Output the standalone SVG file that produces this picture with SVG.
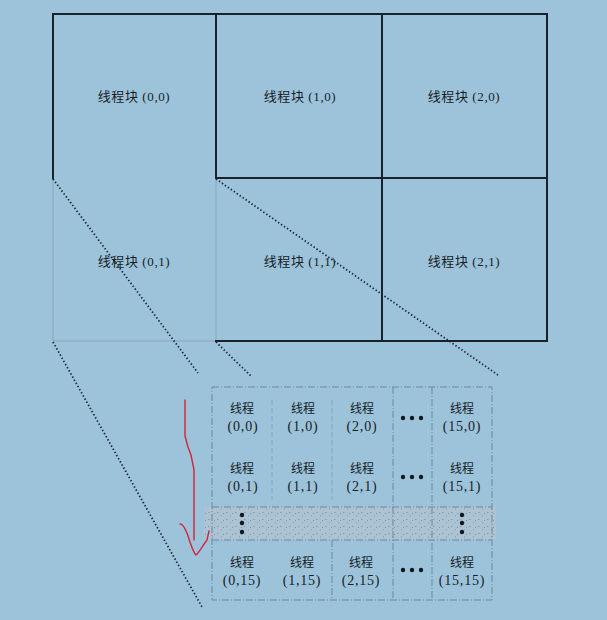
<svg xmlns="http://www.w3.org/2000/svg" width="607" height="620" viewBox="0 0 607 620">
<defs>
<style>
.bg{fill:#9dc3db}
.thick{stroke:#18222c;stroke-width:2;fill:none;stroke-linecap:square}
.faint{stroke:#87a7bb;stroke-width:1;fill:none}
.tgrid{stroke:#6a899e;stroke-width:1;fill:none;stroke-dasharray:7 2 1 2}
.tgrid2{stroke:#86a6ba;stroke-width:1;fill:none;stroke-dasharray:5 3}
.dot{stroke:#1c2833;stroke-width:1.8;fill:none;stroke-dasharray:1.4 2.2}
.blk{font-family:"Liberation Serif","Noto Sans CJK SC",serif;font-size:13px;fill:#151d25;text-anchor:middle;letter-spacing:0.6px}
.th{font-family:"Noto Sans CJK SC",serif;font-size:12px;fill:#151d25;text-anchor:middle}
.co{font-family:"Liberation Serif",serif;font-size:14px;fill:#151d25;text-anchor:middle;letter-spacing:0.8px}
.ell{fill:#10181f}
.red{stroke:#d3233e;stroke-width:1.4;fill:none;stroke-linejoin:round;stroke-linecap:round}
</style>
<pattern id="speck" width="9" height="7" patternUnits="userSpaceOnUse">
  <rect width="9" height="7" fill="#aec3d0"/>
  <rect x="1" y="1" width="1.5" height="1" fill="#7a97ab"/>
  <rect x="5" y="4" width="1" height="1.5" fill="#8aa5b8"/>
  <rect x="7" y="2" width="1" height="1" fill="#6f8da2"/>
</pattern>
</defs>
<rect class="bg" x="0" y="0" width="607" height="620"/>

<g id="blocks">
  <g id="block-0-0">
    <text class="blk" x="134" y="101">线程块 (0,0)</text>
  </g>
  <g id="block-1-0">
    <text class="blk" x="300" y="101">线程块 (1,0)</text>
  </g>
  <g id="block-2-0">
    <text class="blk" x="464" y="101">线程块 (2,0)</text>
  </g>
  <g id="block-0-1">
    <path class="faint" d="M53,178 V341 H216"/>
    <text class="blk" x="134" y="266">线程块 (0,1)</text>
  </g>
  <g id="block-1-1">
    <path class="faint" d="M216,178 V341"/>
    <text class="blk" x="300" y="266">线程块 (1,1)</text>
  </g>
  <g id="block-2-1">
    <text class="blk" x="464" y="266">线程块 (2,1)</text>
  </g>
  <path class="thick" d="M53,178 V14 H547 V341 H216 M216,14 V178 H547 M382,14 V341"/>
</g>

<g id="connectors">
  <line class="dot" x1="53" y1="179" x2="198" y2="373"/>
  <line class="dot" x1="53" y1="342" x2="202" y2="607"/>
  <line class="dot" x1="216" y1="179" x2="498" y2="375"/>
  <line class="dot" x1="216" y1="342" x2="252" y2="377"/>
</g>

<g id="thread-grid">
  <rect x="204" y="507" width="292" height="33" fill="url(#speck)" opacity="0.85"/>
  <path class="tgrid" d="M212,387 H492 V600 H212 Z M212,507 H492 M212,540 H492 M393,387 V600 M432,387 V600 M332,540 V600"/>
  <path class="tgrid2" d="M272,400 V500 M332,400 V500"/>
  <g id="t-0-0"><text class="th" x="242" y="413">线程</text><text class="co" x="243" y="431">(0,0)</text></g>
  <g id="t-1-0"><text class="th" x="303" y="413">线程</text><text class="co" x="303" y="431">(1,0)</text></g>
  <g id="t-2-0"><text class="th" x="362" y="413">线程</text><text class="co" x="362" y="431">(2,0)</text></g>
  <g id="t-15-0"><text class="th" x="462" y="413">线程</text><text class="co" x="462" y="431">(15,0)</text></g>
  <g id="t-0-1"><text class="th" x="242" y="473">线程</text><text class="co" x="243" y="491">(0,1)</text></g>
  <g id="t-1-1"><text class="th" x="303" y="473">线程</text><text class="co" x="303" y="491">(1,1)</text></g>
  <g id="t-2-1"><text class="th" x="362" y="473">线程</text><text class="co" x="362" y="491">(2,1)</text></g>
  <g id="t-15-1"><text class="th" x="462" y="473">线程</text><text class="co" x="462" y="491">(15,1)</text></g>
  <g id="t-0-15"><text class="th" x="242" y="567">线程</text><text class="co" x="242" y="585">(0,15)</text></g>
  <g id="t-1-15"><text class="th" x="302" y="567">线程</text><text class="co" x="302" y="585">(1,15)</text></g>
  <g id="t-2-15"><text class="th" x="361" y="567">线程</text><text class="co" x="361" y="585">(2,15)</text></g>
  <g id="t-15-15"><text class="th" x="462" y="567">线程</text><text class="co" x="462" y="585">(15,15)</text></g>
  <g id="ellipses">
    <circle class="ell" cx="403" cy="418" r="2.2"/><circle class="ell" cx="412" cy="418" r="2.2"/><circle class="ell" cx="421" cy="418" r="2.2"/>
    <circle class="ell" cx="403" cy="477" r="2.2"/><circle class="ell" cx="412" cy="477" r="2.2"/><circle class="ell" cx="421" cy="477" r="2.2"/>
    <circle class="ell" cx="403" cy="570" r="2.2"/><circle class="ell" cx="412" cy="570" r="2.2"/><circle class="ell" cx="421" cy="570" r="2.2"/>
    <circle class="ell" cx="242" cy="515" r="2.2"/><circle class="ell" cx="242" cy="523" r="2.2"/><circle class="ell" cx="242" cy="532" r="2.2"/>
    <circle class="ell" cx="462" cy="515" r="2.2"/><circle class="ell" cx="462" cy="523" r="2.2"/><circle class="ell" cx="462" cy="532" r="2.2"/>
  </g>
</g>

<g id="red-arrow">
  <path class="red" d="M185,400 L185,436 L188,447 L191,455 L194,470 L194,540"/>
  <path class="red" d="M180,524 C184,524 187,532 190,542 C192,548 194,553 196,555 C199,553 203,545 207,540 L209,531"/>
</g>
</svg>
